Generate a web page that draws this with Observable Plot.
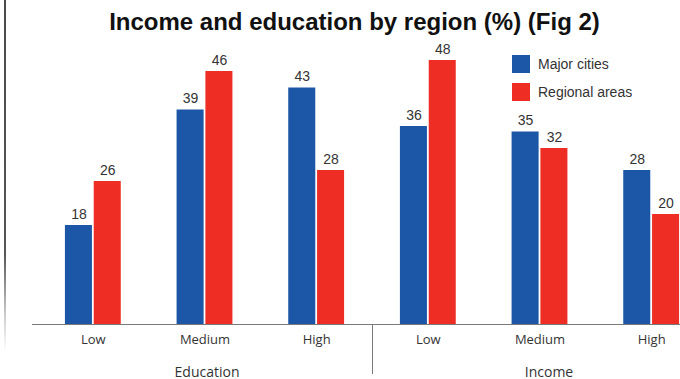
<!DOCTYPE html>
<html>
<head>
<meta charset="utf-8">
<script src="https://cdn.jsdelivr.net/npm/d3@7"></script>
<script src="https://cdn.jsdelivr.net/npm/@observablehq/plot@0.6"></script>
<style>
  html, body { margin: 0; padding: 0; background: #fff; overflow: hidden; }
  #wrap { position: relative; width: 707px; height: 379px; }
  #edge { position: absolute; left: 4px; top: 0; width: 1.5px; height: 352px;
          background: linear-gradient(#4a4a4a 0%, #555 72%, #cfcfcf 90%, rgba(255,255,255,0) 100%); }
  #title { position: absolute; left: 0; top: 10px; width: 707px; text-align: center;
           font-family: "Liberation Sans", Arial, sans-serif; font-weight: bold; font-size: 24px;
           line-height: 24px; color: #111; padding-left: 2px; box-sizing: border-box; }
  #legend { position: absolute; left: 512px; top: 55px; }
  #chart { position: absolute; left: 0; top: 0; }
  .lg-swatches { font-family: "Liberation Sans", Arial, sans-serif !important; font-size: 14px !important; color: #333; margin: 0 !important; }
  .lg-swatch { padding-bottom: 10px !important; }
  .lg-swatch > svg { margin-right: 8px !important; }
</style>
</head>
<body>
<div id="wrap">
  <div id="edge"></div>
  <div id="chart"></div>
  <div id="title">Income and education by region (%) (Fig 2)</div>
  <div id="legend"></div>
</div>
<script>
// ---- data ----
const groups = ["Education", "Education", "Education", "Income", "Income", "Income"];
const levels = ["Low", "Medium", "High", "Low", "Medium", "High"];
const majorCities = [18, 39, 43, 36, 35, 28];
const regionalAreas = [26, 46, 28, 48, 32, 20];
const seriesNames = ["Major cities", "Regional areas"];
const seriesColors = ["#1b57a6", "#ee2d25"];
const groupNames = ["Education", "Income"];

// ---- derived table ----
const keys = groups.map((g, i) => g + "|" + levels[i]);
const rows = [];
keys.forEach((k, i) => {
  rows.push({key: k, series: seriesNames[0], value: majorCities[i]});
  rows.push({key: k, series: seriesNames[1], value: regionalAreas[i]});
});
const major = rows.filter(d => d.series === seriesNames[0]);
const regional = rows.filter(d => d.series === seriesNames[1]);

const W = 707, H = 379;
const xRange = [37, 707];
const step = (xRange[1] - xRange[0]) / keys.length;
const bw = step * 0.5;
const inset = bw / 2 + 0.9;
const half = (bw - inset) / 2 + inset - bw / 2; // offset of each sub-bar centre from band centre

const valueFont = {fontFamily: "Liberation Sans, Arial, sans-serif", fontSize: 14, fill: "#333"};

const chart = Plot.plot({
  width: W,
  height: H,
  marginTop: 49,
  marginBottom: 55,
  marginLeft: 32,
  marginRight: 0,
  style: {fontFamily: "Open Sans, sans-serif", fontSize: "13px", color: "#333", background: "transparent"},
  x: {type: "band", domain: keys, range: xRange, paddingInner: 0.5, paddingOuter: 0.25, round: false,
      tickSize: 0, tickPadding: 10, tickFormat: d => d.split("|")[1], label: null},
  y: {domain: [0, 50], axis: null},
  color: {domain: seriesNames, range: seriesColors},
  marks: [
    Plot.barY(major, {x: "key", y: "value", fill: "series", insetRight: inset}),
    Plot.barY(regional, {x: "key", y: "value", fill: "series", insetLeft: inset}),
    Plot.text(major, {x: "key", y: "value", text: d => String(d.value), dx: -half, dy: -7, lineAnchor: "bottom", ...valueFont}),
    Plot.text(regional, {x: "key", y: "value", text: d => String(d.value), dx: half, dy: -7, lineAnchor: "bottom", ...valueFont}),
    Plot.ruleY([0], {stroke: "#7a7a7a", strokeWidth: 1}),
    Plot.text(groupNames.slice(0, 1), {x: d => d + "|Medium", frameAnchor: "bottom", dy: 52, dx: 2, lineAnchor: "bottom",
      text: d => d, fontSize: 14, fill: "#333"}),
    Plot.text(groupNames.slice(1), {x: d => d + "|Medium", frameAnchor: "bottom", dy: 52, dx: 9, lineAnchor: "bottom",
      text: d => d, fontSize: 14, fill: "#333"})
  ]
});

// divider between the two groups, placed with the plot's own scales
const sx = chart.scale("x");
const sy = chart.scale("y");
const xa = sx.apply(keys[2]) + sx.bandwidth / 2;
const xb = sx.apply(keys[3]) + sx.bandwidth / 2;
const xd = Math.round((xa + xb) / 2) + 0.5;
d3.select(chart).append("line")
  .attr("x1", xd).attr("x2", xd)
  .attr("y1", sy.apply(0)).attr("y2", sy.apply(0) + 50)
  .attr("stroke", "#7a7a7a").attr("stroke-width", 1);

document.getElementById("chart").appendChild(chart);

const legend = Plot.legend({
  color: {domain: seriesNames, range: seriesColors},
  legend: "swatches",
  columns: 1,
  swatchSize: 18,
  className: "lg"
});
document.getElementById("legend").appendChild(legend);
</script>
</body>
</html>
